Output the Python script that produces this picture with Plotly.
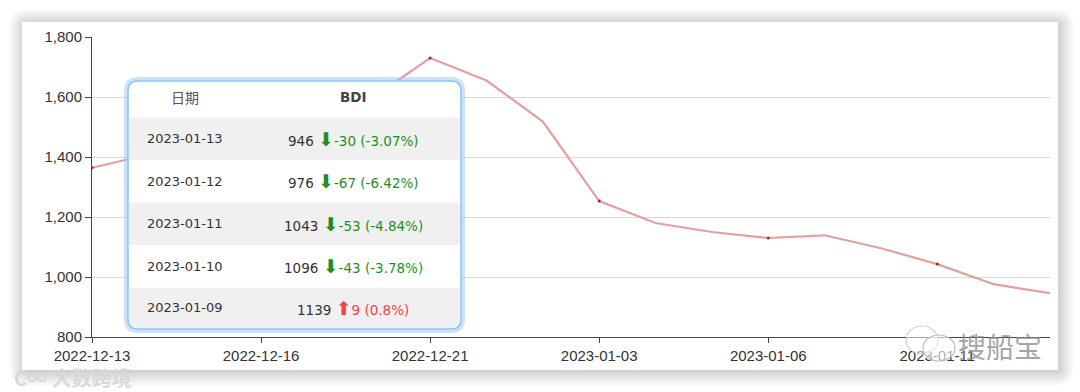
import plotly.graph_objects as go

# ---- data ----
dates = ["2022-12-13", "2022-12-14", "2022-12-15", "2022-12-16", "2022-12-19", "2022-12-20",
         "2022-12-21", "2022-12-22", "2022-12-23", "2023-01-03", "2023-01-04", "2023-01-05",
         "2023-01-06", "2023-01-09", "2023-01-10", "2023-01-11", "2023-01-12", "2023-01-13"]
bdi = [1364, 1407, 1452, 1502, 1548, 1600, 1730, 1655, 1518, 1253, 1180, 1150,
       1130, 1139, 1096, 1043, 976, 946]
tick_dates = ["2022-12-13", "2022-12-16", "2022-12-21", "2023-01-03", "2023-01-06", "2023-01-11"]
y_ticks = [800, 1000, 1200, 1400, 1600, 1800]

table_header = ["日期", "BDI"]
table_dates = ["2023-01-13", "2023-01-12", "2023-01-11", "2023-01-10", "2023-01-09"]
table_values = [946, 976, 1043, 1096, 1139]
table_changes = [-30, -67, -53, -43, 9]
table_pcts = ["-3.07%", "-6.42%", "-4.84%", "-3.78%", "0.8%"]

# ---- geometry helpers (pixel -> paper) ----
W, H = 1080, 392
L, R, T, B = 92, 1050, 37, 337
def px(x):
    return (x - L) / (R - L)
def py(y):
    return (B - y) / (B - T)

def rrect(x0, y0, x1, y1, r, top=True, bottom=True):
    rx = r / (R - L)
    ry = r / (B - T)
    X0, X1 = px(x0), px(x1)
    Y0, Y1 = py(y0), py(y1)  # Y0 top (larger), Y1 bottom
    p = []
    if top:
        p.append(f"M{X0},{Y0 - ry} Q{X0},{Y0} {X0 + rx},{Y0} L{X1 - rx},{Y0} Q{X1},{Y0} {X1},{Y0 - ry}")
    else:
        p.append(f"M{X0},{Y0} L{X1},{Y0}")
    if bottom:
        p.append(f"L{X1},{Y1 + ry} Q{X1},{Y1} {X1 - rx},{Y1} L{X0 + rx},{Y1} Q{X0},{Y1} {X0},{Y1 + ry} Z")
    else:
        p.append(f"L{X1},{Y1} L{X0},{Y1} Z")
    return " ".join(p)

fig = go.Figure()
fig.add_trace(go.Scatter(x=dates, y=bdi, mode="lines",
                         line=dict(color="#e3a0a0", width=2.2), hoverinfo="skip"))
mark_idx = list(range(0, len(dates), 3))
fig.add_trace(go.Scatter(x=[dates[i] for i in mark_idx], y=[bdi[i] for i in mark_idx],
                         mode="markers", marker=dict(color="#b22222", size=3, symbol="circle"),
                         hoverinfo="skip"))

shapes = []
# soft card shadow
for k in range(16, 0, -1):
    shapes.append(dict(type="path", xref="paper", yref="paper", layer="below",
                       path=rrect(22 - k + 3, 22 - k + 3, 1058 + k, 370 + k, k + 2),
                       fillcolor="rgba(0,0,0,0.012)", line=dict(width=0)))
shapes.append(dict(type="rect", xref="paper", yref="paper", layer="below",
                   x0=px(22), x1=px(1058), y0=py(370), y1=py(22),
                   fillcolor="white", line=dict(width=0)))

# tooltip box
bx0, by0, bx1, by1 = 128, 81, 461, 329
shapes.append(dict(type="path", xref="paper", yref="paper", layer="above",
                   path=rrect(bx0 - 1, by0 - 1, bx1 + 1, by1 + 1, 11),
                   fillcolor="white", line=dict(color="rgba(150,200,245,0.5)", width=6)))
shapes.append(dict(type="path", xref="paper", yref="paper", layer="above",
                   path=rrect(bx0, by0, bx1, by1, 10),
                   fillcolor="white", line=dict(color="#8ec3f0", width=1.5)))
row_edges = [117.7, 160, 202.7, 245, 287.7, 328]
for i in range(len(table_dates)):
    if i % 2 == 0:
        last = (i == len(table_dates) - 1)
        shapes.append(dict(type="path", xref="paper", yref="paper", layer="above",
                           path=rrect(bx0 + 1, row_edges[i], bx1 - 1, row_edges[i + 1], 9,
                                      top=False, bottom=last),
                           fillcolor="#f0f0f0", line=dict(width=0)))

# wechat icon watermark
shapes.append(dict(type="circle", xref="paper", yref="paper", layer="above",
                   x0=px(906), x1=px(938), y0=py(354), y1=py(326),
                   fillcolor="rgba(255,255,255,0.5)", line=dict(color="#d0d0d0", width=1.2)))
shapes.append(dict(type="circle", xref="paper", yref="paper", layer="above",
                   x0=px(923), x1=px(955), y0=py(361), y1=py(335),
                   fillcolor="rgba(255,255,255,0.6)", line=dict(color="#bdbdbd", width=1.2)))

annotations = []
col1, col2 = 185, 353
hdr_y = 97
common = dict(xref="paper", yref="paper", showarrow=False, xanchor="center", yanchor="middle")
annotations.append(dict(x=px(col1), y=py(hdr_y), text=table_header[0],
                        font=dict(family="Noto Sans CJK SC", size=14, color="#555"), **common))
annotations.append(dict(x=px(col2), y=py(hdr_y), text=f"<b>{table_header[1]}</b>",
                        font=dict(family="DejaVu Sans", size=13.5, color="#444"), **common))
for i in range(len(table_dates)):
    yc = (row_edges[i] + row_edges[i + 1]) / 2
    annotations.append(dict(x=px(col1), y=py(yc), text=table_dates[i],
                            font=dict(family="DejaVu Sans", size=13, color="#333"), **common))
    ch = table_changes[i]
    if ch < 0:
        col, arrow = "#1e8f1e", "⬇"
    else:
        col, arrow = "#f04545", "⬆"
    txt = (f"{table_values[i]} <span style='color:{col};font-size:19px'>{arrow}</span>"
           f"<span style='color:{col}'>{ch} ({table_pcts[i]})</span>")
    annotations.append(dict(x=px(col2), y=py(yc), text=txt,
                            font=dict(family="DejaVu Sans", size=13.5, color="#333"), **common))

# watermarks
annotations.append(dict(x=px(12), y=py(377), xref="paper", yref="paper", xanchor="left", yanchor="middle",
                        text="<b>C∞ 大数跨境</b>", showarrow=False,
                        font=dict(family="Noto Sans CJK SC", size=20, color="rgba(215,215,215,0.95)")))
annotations.append(dict(x=px(956), y=py(346), xref="paper", yref="paper", xanchor="left", yanchor="middle",
                        text="搜船宝", showarrow=False,
                        font=dict(family="Noto Sans CJK SC", size=28, color="rgba(140,140,140,0.8)")))

fig.update_layout(
    width=W, height=H,
    margin=dict(l=L, r=W - R, t=T, b=H - B),
    paper_bgcolor="white", plot_bgcolor="rgba(0,0,0,0)",
    showlegend=False,
    shapes=shapes, annotations=annotations,
    xaxis=dict(type="category", range=[0, len(dates) - 1], tickmode="array",
               tickvals=tick_dates, ticktext=tick_dates, showgrid=False,
               showline=True, linecolor="#444", linewidth=1, ticks="outside", ticklen=5,
               tickcolor="#444", tickfont=dict(family="Liberation Sans", size=15, color="#333")),
    yaxis=dict(range=[800, 1800], tickvals=y_ticks, tickformat=",", showgrid=True,
               gridcolor="#d9d9d9", gridwidth=1, zeroline=False,
               showline=True, linecolor="#444", linewidth=1, ticks="outside", ticklen=6,
               tickcolor="#444", tickfont=dict(family="Liberation Sans", size=15, color="#333")),
)

fig.write_html("out.html", config={"displayModeBar": False},
               post_script="document.body.style.margin='0';")
